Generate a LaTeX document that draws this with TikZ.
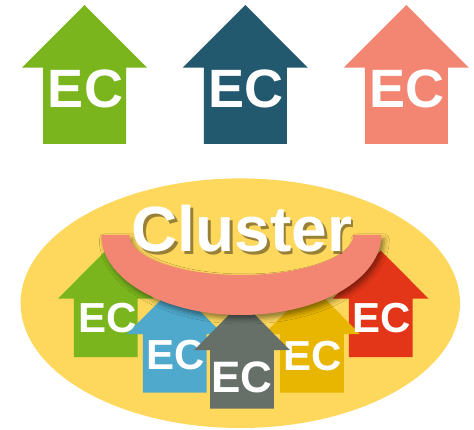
\documentclass[tikz,border=0pt]{standalone}
\usepackage{fontspec}
\setmainfont{Liberation Sans}
\usetikzlibrary{shadows.blur}
\definecolor{cGreen}{HTML}{7AB51D}
\definecolor{cNavy}{HTML}{22596E}
\definecolor{cSalmon}{HTML}{F28672}
\definecolor{cSky}{HTML}{4EA9CC}
\definecolor{cSlate}{HTML}{667068}
\definecolor{cGold}{HTML}{E8B500}
\definecolor{cRed}{HTML}{E33517}
\definecolor{cSun}{HTML}{FED85D}
% arrow shape: centre x, y of head base, scale, colour
\newcommand\ecshape[4]{%
  \fill[#4] ({#1-41.5*#3},{#2-76.3*#3}) -- ({#1+41.5*#3},{#2-76.3*#3})
    -- ({#1+41.5*#3},#2) -- ({#1+62.5*#3},#2) -- (#1,{#2+62.7*#3})
    -- ({#1-62.5*#3},#2) -- ({#1-41.5*#3},#2) -- cycle;}
\begin{document}
\begin{tikzpicture}[x=1pt,y=1pt,
  ectext/.style={text=white, font=\bfseries\fontsize{#1}{#1}\selectfont, inner sep=0pt}]
\useasboundingbox (0,0) rectangle (474,429);
% top row
\ecshape{84.5}{361.3}{1}{cGreen}
\node[ectext=54] (ecA) at (85.5,340) {EC};
\ecshape{245.3}{361.3}{1}{cNavy}
\node[ectext=54] (ecB) at (246.3,340) {EC};
\ecshape{406.3}{361.3}{1}{cSalmon}
\node[ectext=54] (ecC) at (407.3,340) {EC};
% cluster background
\fill[cSun] (240.3,125.8) ellipse [x radius=219.7, y radius=124.8];
% small arrows
\ecshape{105.8}{130.3}{0.767}{cGreen}
\ecshape{380.7}{130.3}{0.767}{cRed}
\ecshape{174.8}{95}{0.767}{cSky}
\ecshape{312}{95}{0.767}{cGold}
\node[ectext=42] (ec1) at (107.5,110.7) {EC};
\node[ectext=42] (ec5) at (381.7,111) {EC};
\node[ectext=42] (ec2) at (175.8,74) {EC};
\node[ectext=42] (ec4) at (313,73) {EC};
\ecshape{242}{79}{0.767}{cSlate}
\node[ectext=44] (ec3) at (241.7,51.5) {EC};
% band
\fill[cSalmon, blur shadow={shadow xshift=3pt, shadow yshift=-4pt, shadow blur radius=5pt, shadow opacity=45}]
  (101.3,194) arc[start angle=180, end angle=360, x radius=140, y radius=80]
  -- (353.3,194) arc[start angle=0, end angle=-180, x radius=112, y radius=40] -- cycle;
% label
\node[text=black, opacity=0.4, inner sep=0pt, anchor=base, font=\bfseries\fontsize{64}{64}\selectfont] (clustershadow) at (244.5,174.3) {Cluster};
\node[text=white, inner sep=0pt, anchor=base, font=\bfseries\fontsize{64}{64}\selectfont] (cluster) at (241.7,177.3) {Cluster};
\end{tikzpicture}
\end{document}
